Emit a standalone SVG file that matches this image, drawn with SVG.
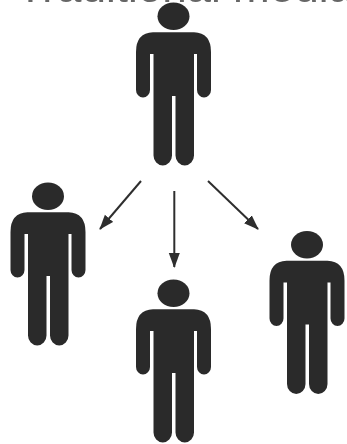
<svg xmlns="http://www.w3.org/2000/svg" width="347" height="444" viewBox="0 0 347 444">
<style>
.title{font-family:"Liberation Sans",Arial,sans-serif;font-size:44px;fill:#666}
.ink{fill:#2b2b2b}
.arrow{stroke:#2e2e2e;stroke-width:2;fill:none;marker-end:url(#head)}
</style>
<defs>
<filter id="soft" x="-5%" y="-5%" width="110%" height="110%"><feGaussianBlur stdDeviation="0.45"/></filter>
<marker id="head" viewBox="0 0 15 12" refX="14" refY="6" markerWidth="15" markerHeight="12" markerUnits="userSpaceOnUse" orient="auto"><path d="M0,0.500 L15,6 L0,11.500 Z" fill="#2e2e2e"/></marker>
<g id="person" class="ink">
<ellipse cx="173.500" cy="16.300" rx="16" ry="13.700"/>
<path d="M153,32.300 H194 Q211,33 211,52 V90 A7,7.500 0 0 1 197,90 V54 H194 V155.500 A9.250,10 0 0 1 175.500,155.500 V96 H172 V155.500 A9.250,10 0 0 1 153.500,155.500 V54 H150 V90 A7,7.500 0 0 1 136,90 V52 Q136,33 153,32.300 Z"/>
</g>
</defs>
<rect width="347" height="444" fill="#fff"/>
<g filter="url(#soft)">
<text class="title" x="185" y="2" text-anchor="middle">Traditional media</text>
<g id="connectors">
<path class="arrow" d="M141,181 L100,229"/>
<path class="arrow" d="M174.300,191 V267"/>
<path class="arrow" d="M208,181 L258,229"/>
</g>
<g id="node-top"><use href="#person"/></g>
<g id="node-left"><use href="#person" x="-125.500" y="180"/></g>
<g id="node-middle"><use href="#person" x="0" y="277"/></g>
<g id="node-right"><use href="#person" x="133.500" y="228.500"/></g>
</g>
</svg>
